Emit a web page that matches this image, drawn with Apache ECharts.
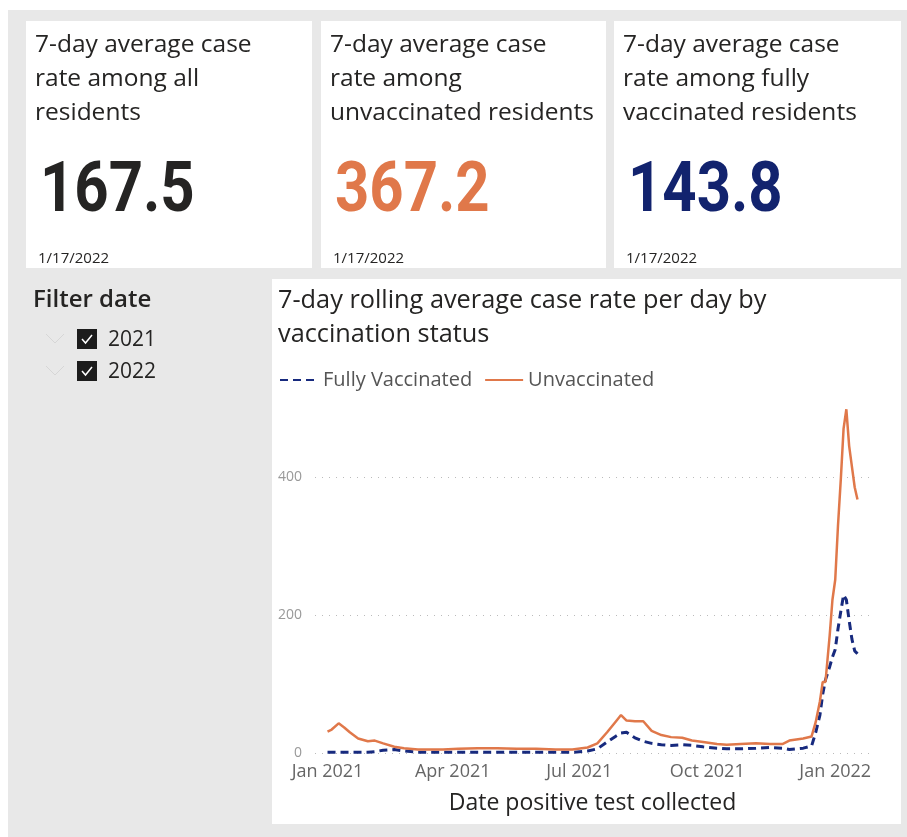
<!DOCTYPE html>
<html>
<head>
<meta charset="utf-8">
<script src="https://cdn.jsdelivr.net/npm/echarts@6/dist/echarts.min.js"></script>
<style>
  html, body { margin: 0; padding: 0; background: #fff; }
  #chart { width: 907px; height: 837px; }
</style>
</head>
<body>
<div id="chart"></div>
<script>
// daily 7-day averages
const dates = [
  '2021-01-01', '2021-01-04', '2021-01-09', '2021-01-13', '2021-01-17', '2021-01-23', '2021-01-30',
  '2021-02-04', '2021-02-10', '2021-02-18', '2021-02-25', '2021-03-07', '2021-03-15', '2021-03-25',
  '2021-04-05', '2021-04-19', '2021-05-03', '2021-05-17', '2021-05-31', '2021-06-14', '2021-06-26',
  '2021-07-07', '2021-07-14', '2021-07-21', '2021-07-27', '2021-07-31', '2021-08-04', '2021-08-10',
  '2021-08-16', '2021-08-22', '2021-08-29', '2021-09-05', '2021-09-13', '2021-09-20', '2021-09-28',
  '2021-10-08', '2021-10-15', '2021-10-25', '2021-11-05', '2021-11-15', '2021-11-24', '2021-11-29',
  '2021-12-09', '2021-12-15', '2021-12-18', '2021-12-21', '2021-12-23', '2021-12-25', '2021-12-28',
  '2021-12-30', '2022-01-01', '2022-01-03', '2022-01-05', '2022-01-07', '2022-01-09', '2022-01-11',
  '2022-01-13', '2022-01-15', '2022-01-17'
];
const unvaccinated = [
  31, 34, 43, 37, 30, 21, 17,
  18, 14, 9, 7, 5, 5, 5,
  6, 7, 7, 6, 6, 5, 5,
  8, 14, 30, 45, 55, 47, 46,
  46, 32, 26, 23, 22, 18, 16,
  13, 12, 13, 14, 13, 13, 18,
  21, 24, 45, 75, 103, 103, 170,
  222, 251, 330, 396, 470, 498, 445,
  415, 385, 367.2
];
const fullyVaccinated = [
  1, 1, 1, 1, 1, 1, 1,
  2, 4, 5, 3, 1, 1, 1,
  1, 1, 1, 1, 1, 1, 1,
  3, 6, 16, 24, 29, 30, 22,
  17, 14, 12, 11, 12, 11, 9,
  7, 6, 6, 7, 8, 7, 5,
  7, 10, 30, 55, 85, 106, 125,
  139, 150, 180, 205, 229, 222, 192,
  165, 148, 143.8
];
const tickDates = ['2021-01-01', '2021-04-01', '2021-07-01', '2021-10-01', '2022-01-01'];
const yTicks = [0, 200, 400];

// cards
const cardTitles = [
  ['7-day average case', 'rate among all', 'residents'],
  ['7-day average case', 'rate among', 'unvaccinated residents'],
  ['7-day average case', 'rate among fully', 'vaccinated residents']
];
const cardValues = ['167.5', '367.2', '143.8'];
const cardDate = '1/17/2022';
const filterYears = ['2021', '2022'];

const months = ['Jan', 'Feb', 'Mar', 'Apr', 'May', 'Jun', 'Jul', 'Aug', 'Sep', 'Oct', 'Nov', 'Dec'];
const ORANGE = '#E0784A';
const NAVY = '#172A7E';
const TEXT = '#252423';
const FONT = "'Open Sans', 'Noto Sans', sans-serif";

const chart = echarts.init(document.getElementById('chart'));

const parse = s => echarts.number.parseDate(s).getTime();

let graphics = [
  { type: 'rect', shape: { x: 8, y: 10, width: 899, height: 827 }, style: { fill: '#e8e8e8' }, z: -10 },
  { type: 'rect', shape: { x: 272, y: 279, width: 629, height: 545 }, style: { fill: '#fff' }, z: -9 }
];

const cardX = [26, 321, 614];
const cardW = [286, 285, 287];
const valueColors = [TEXT, ORANGE, '#12236E'];
cardX.forEach((x, i) => {
  graphics.push({ type: 'rect', shape: { x: x, y: 21, width: cardW[i], height: 247 }, style: { fill: '#fff' }, z: -9 });
  cardTitles[i].forEach((line, j) => {
    graphics.push({
      type: 'text', z: 5,
      style: { text: line, x: x + 9, y: 45 + j * 34, fill: TEXT, font: '24.5px ' + FONT, verticalAlign: 'middle' }
    });
  });
  // narrow bold figure
  graphics.push({
    type: 'text', z: 5, x: x + 14, y: 193, scaleX: 0.855,
    style: { text: cardValues[i], x: 0, y: 0, fill: valueColors[i],
      font: "bold 70px 'Roboto', sans-serif", verticalAlign: 'middle' }
  });
  graphics.push({
    type: 'text', z: 5,
    style: { text: cardDate, x: x + 12, y: 259, fill: TEXT, font: '15px ' + FONT, verticalAlign: 'middle' }
  });
});

// slicer
graphics.push({
  type: 'text', z: 5,
  style: { text: 'Filter date', x: 33, y: 300, fill: TEXT, font: '600 24px ' + FONT, verticalAlign: 'middle' }
});
filterYears.forEach((yr, i) => {
  const cy = 339 + i * 32;
  graphics.push({
    type: 'polyline', z: 5,
    shape: { points: [[46, cy - 5], [55, cy + 4], [64, cy - 5]] },
    style: { stroke: '#d6d6d6', lineWidth: 1, fill: null }
  });
  graphics.push({ type: 'rect', z: 5, shape: { x: 77, y: cy - 10, width: 20, height: 20 }, style: { fill: '#1c1c1c' } });
  graphics.push({
    type: 'polyline', z: 6,
    shape: { points: [[82, cy], [85.5, cy + 4], [92, cy - 4]] },
    style: { stroke: '#fff', lineWidth: 1.5, fill: null }
  });
  graphics.push({
    type: 'text', z: 5,
    style: { text: yr, x: 108, y: cy + 1, fill: TEXT, font: '21px ' + FONT, verticalAlign: 'middle' }
  });
});

// chart title
['7-day rolling average case rate per day by', 'vaccination status'].forEach((line, j) => {
  graphics.push({
    type: 'text', z: 5,
    style: { text: line, x: 278, y: 301 + j * 34, fill: TEXT, font: '25.3px ' + FONT, verticalAlign: 'middle' }
  });
});

const option = {
  animation: false,
  backgroundColor: '#fff',
  graphic: graphics,
  legend: {
    left: 274, top: 365,
    itemWidth: 38, itemHeight: 14, itemGap: 12,
    itemStyle: { opacity: 0 },
    textStyle: { fontFamily: FONT, fontSize: 20, color: '#555' },
    data: ['Fully Vaccinated', 'Unvaccinated']
  },
  grid: { left: 315, right: 37, top: 401, bottom: 84 },
  xAxis: {
    type: 'value',
    min: parse('2020-12-23'),
    max: parse('2022-01-26'),
    axisLine: { show: false },
    axisTick: { show: false },
    splitLine: { show: false },
    axisLabel: {
      customValues: tickDates.map(parse),
      margin: 10,
      color: '#666', fontFamily: FONT, fontSize: 18,
      formatter: v => { const d = new Date(v); return months[d.getMonth()] + ' ' + d.getFullYear(); }
    },
    name: 'Date positive test collected',
    nameLocation: 'middle',
    nameGap: 39,
    nameTextStyle: { color: TEXT, fontFamily: FONT, fontSize: 23 }
  },
  yAxis: {
    type: 'value',
    min: 0, max: 510, interval: 200,
    axisLine: { show: false },
    axisTick: { show: false },
    axisLabel: {
      customValues: yTicks,
      margin: 13, color: '#999', fontFamily: FONT, fontSize: 14
    },
    splitLine: { showMaxLine: false, lineStyle: { type: [1, 6], color: '#bbb', width: 1 } }
  },
  series: [
    {
      name: 'Fully Vaccinated', type: 'line', symbol: 'none',
      lineStyle: { color: NAVY, width: 3, type: [8, 5] },
      itemStyle: { color: NAVY },
      data: dates.map((d, i) => [parse(d), fullyVaccinated[i]])
    },
    {
      name: 'Unvaccinated', type: 'line', symbol: 'none',
      lineStyle: { color: ORANGE, width: 2.5 },
      itemStyle: { color: ORANGE },
      data: dates.map((d, i) => [parse(d), unvaccinated[i]])
    }
  ]
};

chart.setOption(option);
</script>
</body>
</html>
